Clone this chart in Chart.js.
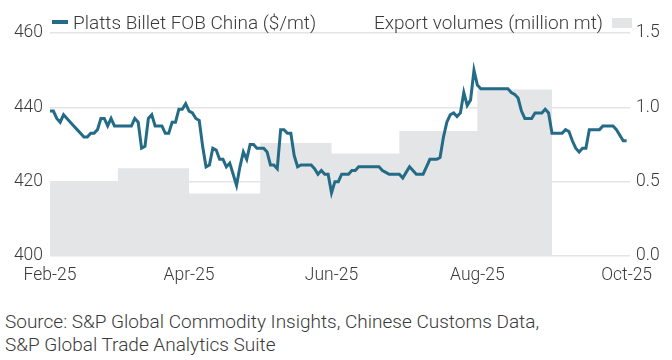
<!DOCTYPE html>
<html>
<head>
<meta charset="utf-8">
<script src="https://cdn.jsdelivr.net/npm/chart.js@4"></script>
<style>
  body { margin: 0; background: #fff; font-family: Roboto, sans-serif; font-weight: 300; color: #3a3a3a; }
  #wrap { position: relative; width: 672px; height: 360px; overflow: hidden; }
  #chart { position: absolute; left: 0; top: 0; }
  .legend { position: absolute; top: 12px; font-size: 19px; line-height: 21px; white-space: nowrap; }
  .swatch { display: inline-block; vertical-align: middle; }
  #legPrice { left: 52px; }
  #legPrice .swatch { width: 16px; height: 4px; background: #236b87; margin-right: 5px; margin-top: -3px; }
  #legVol { right: 40px; }
  #legVol .swatch { width: 20px; height: 10px; background: #e4e5e6; margin-left: 9px; margin-top: -2px; }
  #source { position: absolute; left: 5px; top: 310px; font-size: 19px; line-height: 23px; }
</style>
</head>
<body>
<div id="wrap">
  <canvas id="chart" width="672" height="292"></canvas>
  <div class="legend" id="legPrice"><span class="swatch"></span>Platts Billet FOB China ($/mt)</div>
  <div class="legend" id="legVol">Export volumes (million mt)<span class="swatch"></span></div>
  <div id="source">Source: S&amp;P Global Commodity Insights, Chinese Customs Data,<br>S&amp;P Global Trade Analytics Suite</div>
</div>
<script>
// daily (weekday) billet price, $/mt, Feb 3 to Sep 30 2025
const billetPrice = [
  439, 439, 437, 436, 438, 437, 436, 435, 434, 433,
  432, 432, 433, 433, 434, 437, 437, 435, 437, 435,
  435, 435, 435, 435, 435, 437, 436, 429, 429.5, 437,
  438, 435, 435, 435, 433, 433, 436, 436, 439.5, 439.5,
  441, 439, 438.5, 437, 436.5, 429.5, 424, 424.5, 429, 428.5,
  426, 426, 424, 425, 422, 419, 424, 428, 426, 430,
  430, 429, 429, 429, 428, 424.5, 424.5, 423.5, 434, 434,
  433, 433, 427, 424, 424.5, 424.5, 424.5, 424.5, 423.5, 422,
  423, 422, 422, 417, 420, 420, 422, 422, 422, 423,
  423, 424, 424, 424, 424, 424, 424, 424, 423, 422.5,
  422, 422, 422, 422, 421, 422.5, 424, 423, 422, 422,
  422, 424, 426, 426, 426, 426.5, 432, 436, 438, 438.5,
  437.5, 438.5, 444, 440.5, 442, 450, 446, 445, 445, 445,
  445, 445, 445, 445, 445, 445, 444, 443.5, 442.5, 439,
  437, 437, 437, 438.5, 438.5, 438.5, 439.5, 438.5, 433, 433,
  433, 433, 434, 433.5, 431, 429, 428, 429, 429, 434,
  434, 434, 434, 435, 435, 435, 435, 434, 432.5, 431,
  431
];

// monthly export volumes, million mt (Feb..Aug), and weekday index where each month starts
const exportMonths = ['Feb-25', 'Mar-25', 'Apr-25', 'May-25', 'Jun-25', 'Jul-25', 'Aug-25', 'Sep-25', 'Oct-25'];
const monthStart = [0, 20, 41, 62, 83, 103, 126, 148, 170];
const exportVolumes = [0.5, 0.59, 0.42, 0.76, 0.69, 0.84, 1.12];

const xTickLabels = ['Feb-25', 'Apr-25', 'Jun-25', 'Aug-25', 'Oct-25'];
const priceTicks = [400, 420, 440, 460];
const volumeTicks = [0, 0.5, 1, 1.5];

const tickPos = xTickLabels.map(l => monthStart[exportMonths.indexOf(l)]);

const volumeData = exportVolumes.map((v, i) => ({ x: monthStart[i], y: v }));
volumeData.push({ x: monthStart[exportVolumes.length], y: 0 });

const textColor = '#3a3a3a';
const gridColor = '#e4e4e4';
const font = { family: 'Roboto', size: 17.5, weight: '300' };

new Chart(document.getElementById('chart'), {
  type: 'line',
  data: {
    datasets: [
      {
        label: 'Platts Billet FOB China ($/mt)',
        data: billetPrice.map((p, i) => ({ x: i, y: p })),
        yAxisID: 'y',
        borderColor: '#236b87',
        borderWidth: 3,
        pointRadius: 0,
        tension: 0,
        order: 1,
      },
      {
        label: 'Export volumes (million mt)',
        data: volumeData,
        yAxisID: 'y1',
        stepped: 'before',
        borderWidth: 0,
        borderColor: 'transparent',
        backgroundColor: '#e4e5e6',
        fill: 'origin',
        pointRadius: 0,
        order: 2,
      },
    ],
  },
  options: {
    responsive: false,
    animation: false,
    layout: { padding: { top: 33, left: 0, right: 0 } },
    plugins: {
      legend: { display: false },
      tooltip: { enabled: false },
    },
    scales: {
      x: {
        type: 'linear',
        min: 0,
        max: 171,
        grid: { display: false, drawTicks: false, tickLength: 0 },
        border: { display: false },
        afterBuildTicks: scale => {
          scale.ticks = tickPos.map(v => ({ value: v }));
        },
        afterFit: scale => { scale.height = 36; },
        ticks: {
          autoSkip: false,
          maxRotation: 0,
          padding: 9,
          color: textColor,
          font: font,
          callback: (v) => xTickLabels[tickPos.indexOf(v)],
        },
      },
      y: {
        position: 'left',
        min: 400,
        max: 460,
        afterBuildTicks: scale => {
          scale.ticks = priceTicks.map(v => ({ value: v }));
        },
        afterFit: scale => { scale.width = 50; },
        grid: { color: gridColor, lineWidth: 1.5, drawTicks: false },
        border: { display: false },
        ticks: { padding: 7, color: textColor, font: font },
      },
      y1: {
        position: 'right',
        min: 0,
        max: 1.5,
        afterBuildTicks: scale => {
          scale.ticks = volumeTicks.map(v => ({ value: v }));
        },
        afterFit: scale => { scale.width = 42; },
        grid: { display: false, drawTicks: false },
        border: { display: false },
        ticks: { padding: 6, color: textColor, font: font, callback: v => v.toFixed(1) },
      },
    },
  },
});
</script>
</body>
</html>
